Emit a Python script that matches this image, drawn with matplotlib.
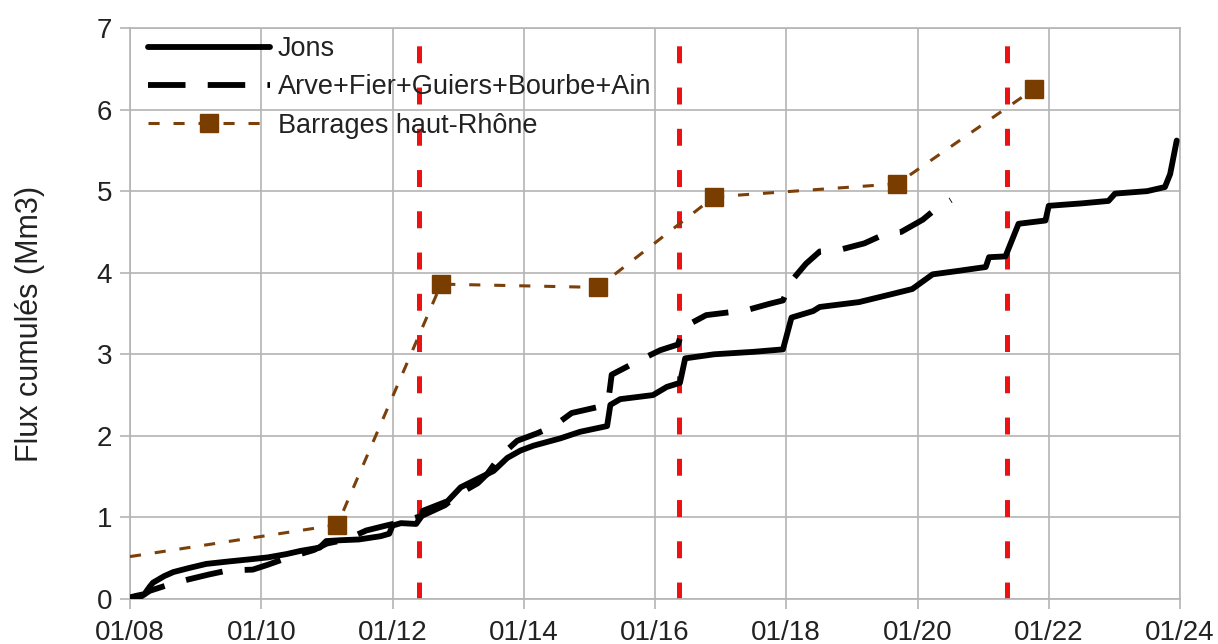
import numpy as np
import matplotlib
matplotlib.use("Agg")
import matplotlib.pyplot as plt

plt.rcParams['font.family'] = ['Liberation Sans', 'DejaVu Sans']
plt.rcParams['lines.scale_dashes'] = False

# Cumulated flux at Jons (day of month, Mm3)
jons_x = [8.0, 8.1, 8.22, 8.3, 8.35, 8.52, 8.66, 8.9, 9.16, 9.5,
          9.87, 10.1, 10.38, 10.6, 10.89, 10.99, 11.2, 11.49, 11.82, 11.95,
          12.0, 12.13, 12.36, 12.43, 12.46, 12.84, 13.04, 13.34, 13.54, 13.75,
          13.95, 14.15, 14.56, 14.86, 15.27, 15.32, 15.47, 15.97, 16.18, 16.38,
          16.46, 16.9, 17.5, 17.95, 18.08, 18.41, 18.51, 19.11, 19.62, 19.92,
          20.23, 20.6, 21.04, 21.09, 21.34, 21.54, 21.95, 22.0, 22.5, 22.91,
          23.01, 23.5, 23.77, 23.85, 23.95]
jons_y = [0.02, 0.04, 0.06, 0.15, 0.2, 0.28, 0.33, 0.38, 0.43, 0.46,
          0.49, 0.51, 0.55, 0.59, 0.63, 0.71, 0.72, 0.73, 0.77, 0.8,
          0.9, 0.93, 0.92, 1.0, 1.08, 1.2, 1.37, 1.49, 1.57, 1.73,
          1.82, 1.88, 1.97, 2.05, 2.12, 2.38, 2.45, 2.5, 2.6, 2.65,
          2.95, 3.0, 3.03, 3.06, 3.45, 3.53, 3.58, 3.64, 3.74, 3.8,
          3.98, 4.02, 4.07, 4.19, 4.2, 4.6, 4.64, 4.82, 4.85, 4.88,
          4.97, 5.0, 5.05, 5.21, 5.62]

# Sum of tributaries
arve_x = [8.0, 8.15, 8.3, 8.53, 8.7, 8.89, 9.2, 9.49, 9.87, 10.1,
          10.38, 10.8, 11.0, 11.3, 11.6, 11.9, 12.16, 12.45, 12.8, 13.04,
          13.3, 13.44, 13.64, 13.9, 14.2, 14.46, 14.73, 15.22, 15.3, 15.34,
          15.77, 16.08, 16.35, 16.42, 16.5, 16.78, 17.39, 17.75, 17.95, 18.08,
          18.3, 18.51, 18.81, 19.19, 19.52, 19.75, 20.08, 20.23, 20.51]
arve_y = [0.0, 0.02, 0.1, 0.16, 0.2, 0.24, 0.3, 0.35, 0.36, 0.42,
          0.5, 0.6, 0.68, 0.73, 0.84, 0.9, 0.95, 1.02, 1.15, 1.3,
          1.42, 1.53, 1.75, 1.94, 2.03, 2.12, 2.28, 2.37, 2.5, 2.75,
          2.93, 3.05, 3.12, 3.3, 3.36, 3.48, 3.54, 3.62, 3.66, 3.9,
          4.11, 4.26, 4.28, 4.36, 4.48, 4.5, 4.65, 4.75, 4.89]

# Upper Rhone dams (first point is where the line enters the axis)
barr_x = [8.0, 11.16, 12.74, 15.13, 16.9, 19.69, 21.77]
barr_y = [0.52, 0.91, 3.86, 3.82, 4.93, 5.09, 6.25]

# Event lines
events = [12.4, 16.37, 21.37]

xticks = [8, 10, 12, 14, 16, 18, 20, 22, 24]
xlabels = ["01/%02d" % d for d in xticks]

grey = '#b4b4b4'
brown = '#7b3f0a'

fig = plt.figure(figsize=(12.18, 6.44), dpi=100)
ax = fig.add_axes([130 / 1218, 45 / 644, 1050 / 1218, 571 / 644])

ax.grid(True, color=grey, linewidth=1.2)
ax.set_axisbelow(True)

for xe in events:
    ax.axvline(xe, ymin=0, ymax=0.972, color='#ee1111', linewidth=3.6,
               dashes=(12.2, 17.5), zorder=2)

ax.plot(jons_x, jons_y, color='black', linewidth=4.2, solid_joinstyle='round',
        solid_capstyle='round', label='Jons', zorder=4)
ax.plot(arve_x, arve_y, color='black', linewidth=4.2, dashes=(27, 16),
        dash_joinstyle='round', label='Arve+Fier+Guiers+Bourbe+Ain', zorder=4)
ax.plot(barr_x, barr_y, color=brown, linewidth=2.2, dashes=(8, 10),
        marker='s', markersize=13, markerfacecolor='#7a3d00',
        markeredgecolor='#7a3d00', markevery=list(range(1, len(barr_x))),
        label='Barrages haut-Rhône', zorder=5)

ax.set_xlim(8, 24)
ax.set_ylim(0, 7)
ax.set_xticks(xticks)
ax.set_xticklabels(xlabels)
ax.set_yticks(range(0, 8))
for s in ax.spines.values():
    s.set_color(grey)
    s.set_linewidth(1.2)
ax.tick_params(axis='both', colors=grey, length=7, width=1.2, labelsize=20,
               labelcolor='#222222')
ax.tick_params(axis='x', pad=8)
ax.tick_params(axis='y', pad=6)

fig.text(30 / 1218, 1 - 324 / 644, 'Flux cumulés (Mm3)', rotation=90,
         ha='center', va='center', fontsize=22, color='#222222')

leg = ax.legend(loc='upper left', bbox_to_anchor=(148 / 1218, 1 - 36 / 644),
                bbox_transform=fig.transFigure, frameon=False, fontsize=19.5,
                handlelength=4.5, handletextpad=0.3, labelspacing=0.46,
                borderpad=0, borderaxespad=0)
for t in leg.get_texts():
    t.set_color('#222222')

fig.savefig('out.png', dpi=100)
